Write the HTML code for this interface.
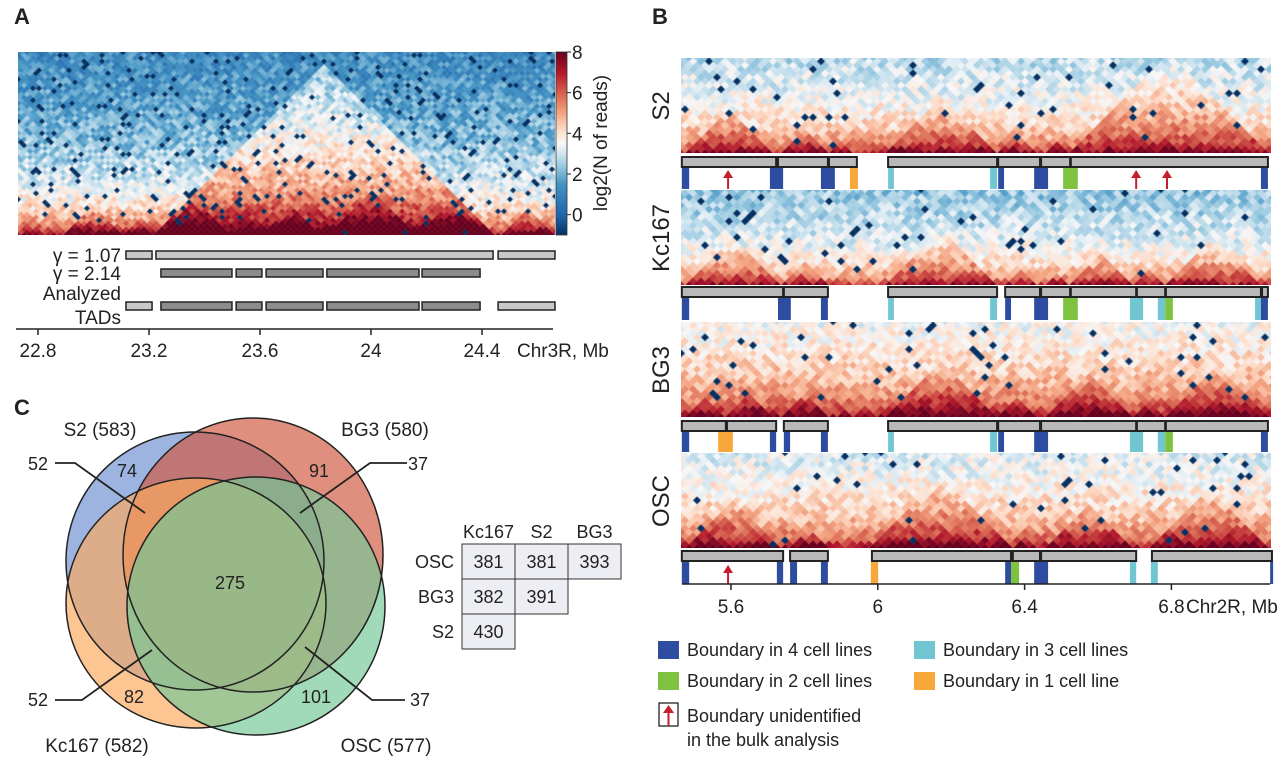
<!DOCTYPE html>
<html><head><meta charset="utf-8">
<style>
html,body{margin:0;padding:0;background:#fff;}
#wrap{position:relative;width:1280px;height:758px;overflow:hidden;font-family:"Liberation Sans",sans-serif;}
canvas{position:absolute;}
svg{position:absolute;left:0;top:0;}
svg text{font-family:"Liberation Sans",sans-serif;fill:#222;}
</style></head>
<body>
<div id="wrap">
<canvas id="hmA" style="left:18px;top:52px" width="537" height="183"></canvas>
<canvas id="hmS2" style="left:681px;top:58px" width="590" height="95"></canvas>
<canvas id="hmKc" style="left:681px;top:190px" width="590" height="95"></canvas>
<canvas id="hmBG3" style="left:681px;top:322px" width="590" height="95"></canvas>
<canvas id="hmOSC" style="left:681px;top:453px" width="590" height="95"></canvas>
<svg id="ov" width="1280" height="758"></svg>
</div>
<script>
// ---------- DATA ----------
const colorTicks = [8, 6, 4, 2, 0];
const axisATicks = [22.8, 23.2, 23.6, 24, 24.4];
const tadsGamma107 = [[23.117, 23.211], [23.225, 24.44], [24.458, 24.663]];
const tadsGamma214 = [[23.243, 23.499], [23.514, 23.607], [23.622, 23.827], [23.841, 24.173], [24.184, 24.393]];
const tadsAnalyzedLight = [[23.117, 23.211], [24.458, 24.663]];
const axisBTicks = [5.6, 6, 6.4, 6.8];
const cellLines = ["S2", "Kc167", "BG3", "OSC"];
const lineOffsets = [-0.35, -0.8, 0.35, 0.05];
const tadsS2 = [[5.466,5.723],[5.728,5.864],[5.867,5.943],[6.028,6.325],[6.328,6.442],[6.445,6.524],[6.526,7.063]];
const tadsKc = [[5.466,5.742],[5.744,5.864],[6.028,6.325],[6.347,6.442],[6.445,6.524],[6.526,6.704],[6.706,6.783],[6.785,7.044],[7.047,7.063]];
const tadsBG3 = [[5.466,5.586],[5.589,5.723],[5.744,5.864],[6.028,6.325],[6.328,6.442],[6.445,6.704],[6.706,6.783],[6.785,7.063]];
const tadsOSC = [[5.466,5.742],[5.761,5.864],[5.984,6.363],[6.368,6.442],[6.445,6.704],[6.747,7.074]];
const marksS2 = [[5.466,5.486,4],[5.706,5.742,4],[5.845,5.883,4],[5.924,5.946,1],[6.028,6.044,3],[6.306,6.325,3],[6.328,6.344,4],[6.426,6.464,4],[6.505,6.545,2],[7.044,7.063,4]];
const marksKc = [[5.466,5.486,4],[5.728,5.763,4],[5.845,5.864,4],[6.028,6.044,3],[6.306,6.325,3],[6.347,6.363,4],[6.426,6.464,4],[6.505,6.545,2],[6.687,6.723,3],[6.763,6.783,3],[6.783,6.804,2],[7.028,7.044,3],[7.044,7.063,4]];
const marksBG3 = [[5.466,5.486,4],[5.565,5.605,1],[5.706,5.723,4],[5.744,5.761,4],[5.845,5.864,4],[6.028,6.044,3],[6.306,6.325,3],[6.328,6.344,4],[6.426,6.464,4],[6.687,6.723,3],[6.763,6.783,3],[6.783,6.804,2],[7.044,7.063,4]];
const marksOSC = [[5.466,5.486,4],[5.725,5.742,4],[5.761,5.780,4],[5.845,5.864,4],[5.981,6.001,1],[6.347,6.363,4],[6.363,6.385,2],[6.426,6.464,4],[6.687,6.704,3],[6.744,6.763,3],[7.069,7.074,4]];
const arrowsS2 = [5.592, 6.704, 6.788];
const arrowsKc = [];
const arrowsBG3 = [];
const arrowsOSC = [5.592];
const vennSets = ["S2 (583)", "BG3 (580)", "Kc167 (582)", "OSC (577)"];
const vennCounts = [74, 91, 275, 82, 101];
const vennLeaders = [52, 37, 52, 37];
const tableCols = ["Kc167", "S2", "BG3"];
const tableRows = ["OSC", "BG3", "S2"];
const tableVals = [[381, 381, 393], [382, 391], [430]];

// ---------- HELPERS ----------
const NS = "http://www.w3.org/2000/svg";
const ov = document.getElementById('ov');
function mk(tag, attrs, parent) {
  const e = document.createElementNS(NS, tag);
  for (const k in attrs) e.setAttribute(k, attrs[k]);
  (parent || ov).appendChild(e);
  return e;
}
function txt(s, x, y, size, anchor, parent) {
  const t = mk('text', {x: x, y: y, 'font-size': size, 'text-anchor': anchor || 'start'}, parent);
  t.textContent = s;
  return t;
}
const xA = mb => 38 + (mb - 22.8) * 277.5;
const xB = mb => 731 + (mb - 5.6) * 367;
const stops = [[-1,[5,48,97]],[0,[33,102,172]],[1.5,[67,147,195]],[2.3,[146,197,222]],[3,[209,229,240]],[3.5,[247,247,247]],[4.2,[253,219,199]],[5,[244,165,130]],[6,[214,96,77]],[7,[178,24,43]],[8,[103,0,31]]];
function cmap(v) {
  if (v <= stops[0][0]) return 'rgb(' + stops[0][1].join(',') + ')';
  for (let k = 1; k < stops.length; k++) {
    if (v <= stops[k][0]) {
      const a = stops[k-1], b = stops[k], t = (v - a[0]) / (b[0] - a[0]);
      return 'rgb(' + [0,1,2].map(c => Math.round(a[1][c] + (b[1][c] - a[1][c]) * t)).join(',') + ')';
    }
  }
  return 'rgb(' + stops[stops.length-1][1].join(',') + ')';
}
function hash(i, j, s) {
  let h = (i * 374761393 + j * 668265263 + s * 2147483647) | 0;
  h = (h ^ (h >>> 13)) * 1274126177 | 0;
  h = h ^ (h >>> 16);
  return ((h >>> 0) % 10000) / 10000;
}
function sameTad(tads, a, b) {
  for (const t of tads) if (a >= t[0] && a <= t[1] && b >= t[0] && b <= t[1]) return t;
  return null;
}
function drawHeat(id, mbLeft, pxPerMb, w, tadSmall, tadBig, base, k, bonusS, bonusB, seed, speck, noise) {
  const cv = document.getElementById(id), ctx = cv.getContext('2d');
  const W = cv.width, H = cv.height, hh = w / 2;
  const dmax = Math.ceil(H / hh) + 1, nb = Math.ceil(W / w) + 2;
  const mbPerBin = w / pxPerMb;
  for (let d = 0; d <= dmax; d++) {
    for (let c = -1; c <= nb * 2; c++) {
      if ((c + d) % 2 !== 0) continue;
      const cx = c * w / 2, cy = H - d * hh;
      if (cx < -w || cx > W + w) continue;
      const i = (c - d) / 2, j = (c + d) / 2;
      const a = mbLeft + i * mbPerBin, b = mbLeft + j * mbPerBin;
      let v = base - k * Math.log2(1 + d);
      const ts = sameTad(tadSmall, a, b);
      if (ts) v += bonusS * Math.max(0, 1 - d * mbPerBin / (ts[1] - ts[0]) * 0.7);
      const tb = tadBig ? sameTad(tadBig, a, b) : null;
      if (tb) v += bonusB * (1 - 0.5 * d * mbPerBin / (tb[1] - tb[0]));
      v += (hash(i, j, seed) - 0.5) * noise;
      if (hash(j, i, seed + 7) < speck * Math.min(1, d / 8)) v = -1.2;
      ctx.fillStyle = cmap(v);
      ctx.beginPath();
      ctx.moveTo(cx, cy - hh - 0.3); ctx.lineTo(cx + w / 2 + 0.3, cy);
      ctx.lineTo(cx, cy + hh + 0.3); ctx.lineTo(cx - w / 2 - 0.3, cy);
      ctx.closePath(); ctx.fill();
    }
  }
}

// ---------- PANEL A ----------
drawHeat('hmA', 22.728, 277.5, 6, [[23.243,23.499],[23.514,23.607],[23.622,23.827],[23.841,24.173],[24.184,24.393],[23.117,23.211],[24.458,24.663],[22.9,23.1]], [[23.225,24.44]], 8.0, 1.15, 1.4, 2.0, 1, 0.06, 1.6);
const gA = mk('g', { });
let t = txt('A', 14, 24, 22, 'start', gA); t.setAttribute('font-weight', 'bold');
 
const defs = mk('defs', {});
const lg = mk('linearGradient', {id: 'cb', x1: 0, y1: 1, x2: 0, y2: 0}, defs);
for (let v = -1; v <= 8; v += 0.5) mk('stop', {offset: (v + 1) / 9, 'stop-color': cmap(v)}, lg);
const cbY = v => 235 - (v + 1) / 9 * 183;
const cb = mk('rect', {x: 556, y: 52, width: 11, height: 183, fill: 'url(#cb)', stroke: '#333', 'stroke-width': 0.8}, gA);
 
colorTicks.forEach(v => {
  mk('line', {x1: 567, x2: 571, y1: cbY(v), y2: cbY(v), stroke: '#222', 'stroke-width': 1}, gA);
  const tt = txt(String(v), 572, cbY(v) + 7, 19, 'start', gA);
   
});
t = txt('log2(N of reads)', 0, 0, 19, 'middle', gA);
t.setAttribute('transform', 'translate(607,143) rotate(-90)');
 
function barA(tads, y, fill, name) {
  tads.forEach(tt => {
    const r = mk('rect', {x: xA(tt[0]), y: y, width: xA(tt[1]) - xA(tt[0]), height: 8, fill: fill, stroke: '#222', 'stroke-width': 1.5}, gA);
     
  });
}
barA(tadsGamma107, 251, '#c8c8c8', 'tad-gamma-1-07');
barA(tadsGamma214, 269, '#8c8c8c', 'tad-gamma-2-14');
barA(tadsAnalyzedLight, 302, '#c8c8c8', 'analyzed-tad-light');
barA(tadsGamma214, 302, '#8c8c8c', 'analyzed-tad-dark');
[['γ = 1.07', 262], ['γ = 2.14', 280], ['Analyzed', 300], ['TADs', 324]].forEach(p => {
  const l = txt(p[0], 121, p[1], 19, 'end', gA);
   
});
mk('line', {x1: 16, x2: 553, y1: 329, y2: 329, stroke: '#222', 'stroke-width': 1.5}, gA);
axisATicks.forEach(v => {
  mk('line', {x1: xA(v), x2: xA(v), y1: 329, y2: 335, stroke: '#222', 'stroke-width': 1.5}, gA);
  const l = txt(String(v), xA(v), 357, 19, 'middle', gA);
   
});
t = txt('Chr3R, Mb', 517, 357, 19, 'start', gA);
 

// ---------- PANEL B ----------
const gB = mk('g', { });
t = txt('B', 652, 24, 22, 'start', gB); t.setAttribute('font-weight', 'bold');
 
const hmIds = ['hmS2', 'hmKc', 'hmBG3', 'hmOSC'];
const tadSets = [tadsS2, tadsKc, tadsBG3, tadsOSC];
const markSets = [marksS2, marksKc, marksBG3, marksOSC];
const arrowSets = [arrowsS2, arrowsKc, arrowsBG3, arrowsOSC];
const hmTop = [58, 190, 322, 453];
const barTop = [157, 287, 421, 551];
const markBot = [189, 320, 452, 584];
const levelColors = {4: '#2e4da0', 3: '#72c6d1', 2: '#7fc241', 1: '#f8a83a'};
cellLines.forEach((name, n) => {
  drawHeat(hmIds[n], 5.6 + (681 - 731) / 367, 367, 8, tadSets[n], null, 7.4 + lineOffsets[n], 0.92, 1.2, 0, 11 + n, 0.03, 1.4);
  const lab = txt(name, 0, 0, 24, 'middle', gB);
  lab.setAttribute('transform', 'translate(' + 669 + ',' + (hmTop[n] + 48) + ') rotate(-90)');
   
  const g = mk('g', {}, gB);
   
  markSets[n].forEach(m => {
    const r = mk('rect', {x: xB(m[0]), y: barTop[n] + 10, width: Math.max(3, xB(m[1]) - xB(m[0])), height: markBot[n] - barTop[n] - 10, fill: levelColors[m[2]]}, g);
     
  });
  tadSets[n].forEach(tt => {
    const r = mk('rect', {x: xB(tt[0]), y: barTop[n], width: xB(tt[1]) - xB(tt[0]), height: 10, fill: '#b9b9b9', stroke: '#222', 'stroke-width': 2}, g);
     
  });
  arrowSets[n].forEach(a => {
    const x = xB(a), yb = markBot[n];
    const ar = mk('g', {}, g);
     
    mk('line', {x1: x, x2: x, y1: yb, y2: yb - 12, stroke: '#c41e2f', 'stroke-width': 2}, ar);
    mk('polygon', {points: (x - 5) + ',' + (yb - 11) + ' ' + (x + 5) + ',' + (yb - 11) + ' ' + x + ',' + (yb - 19), fill: '#c41e2f'}, ar);
  });
});
mk('line', {x1: 682, x2: 1270, y1: 584, y2: 584, stroke: '#222', 'stroke-width': 1.5}, gB);
axisBTicks.forEach(v => {
  mk('line', {x1: xB(v), x2: xB(v), y1: 584, y2: 590, stroke: '#222', 'stroke-width': 1.5}, gB);
  const l = txt(String(v), xB(v), 613, 19, 'middle', gB);
   
});
t = txt('Chr2R, Mb', 1186, 613, 19, 'start', gB);
 
const leg = mk('g', {}, gB);
 
[[4, 'Boundary in 4 cell lines', 658, 641], [3, 'Boundary in 3 cell lines', 914, 641], [2, 'Boundary in 2 cell lines', 658, 672], [1, 'Boundary in 1 cell line', 914, 672]].forEach(e => {
  const ge = mk('g', {}, leg);
   
  mk('rect', {x: e[2], y: e[3], width: 21, height: 18, fill: levelColors[e[0]]}, ge);
  txt(e[1], e[2] + 29, e[3] + 15, 18, 'start', ge);
});
const ga = mk('g', {}, leg);
 
mk('rect', {x: 659, y: 703, width: 19, height: 23, fill: '#fff', stroke: '#222', 'stroke-width': 1.3}, ga);
mk('line', {x1: 668.5, x2: 668.5, y1: 726, y2: 712, stroke: '#c41e2f', 'stroke-width': 2}, ga);
mk('polygon', {points: '663,713 674,713 668.5,705', fill: '#c41e2f'}, ga);
txt('Boundary unidentified', 687, 722, 18, 'start', ga);
txt('in the bulk analysis', 687, 746, 18, 'start', ga);

// ---------- PANEL C ----------
const gC = mk('g', { });
t = txt('C', 14, 415, 22, 'start', gC); t.setAttribute('font-weight', 'bold');
 
const ells = [
  {cx: 195, cy: 561, rx: 129, ry: 129, f: '#6f90d2', n: 'venn-s2'},
  {cx: 253, cy: 555, rx: 130, ry: 137, f: '#d25a42', n: 'venn-bg3'},
  {cx: 196, cy: 603, rx: 130, ry: 125, f: '#fcaa5e', n: 'venn-kc167'},
  {cx: 256, cy: 606, rx: 129, ry: 129, f: '#74c898', n: 'venn-osc'}
];
ells.forEach(e => {
  const el = mk('ellipse', {cx: e.cx, cy: e.cy, rx: e.rx, ry: e.ry, fill: e.f, 'fill-opacity': 0.68}, gC);
   
});
ells.forEach(e => mk('ellipse', {cx: e.cx, cy: e.cy, rx: e.rx, ry: e.ry, fill: 'none', stroke: '#222', 'stroke-width': 1.5}, gC));
[[vennSets[0], 100, 436], [vennSets[1], 385, 436], [vennSets[2], 97, 752], [vennSets[3], 386, 752]].forEach(p => {
  const l = txt(p[0], p[1], p[2], 19, 'middle', gC);
   
});
[[vennCounts[0], 127, 477], [vennCounts[1], 319, 477], [vennCounts[2], 230, 589], [vennCounts[3], 134, 703], [vennCounts[4], 316, 703]].forEach(p => {
  const l = txt(String(p[0]), p[1], p[2], 18, 'middle', gC);
   
});
[[vennLeaders[0], 38, 470, '55,463 75,463 145,513'], [vennLeaders[1], 418, 470, '407,463 370,463 300,513'],
 [vennLeaders[2], 38, 706, '55,700 82,700 152,650'], [vennLeaders[3], 420, 706, '405,700 372,700 305,647']].forEach(p => {
  const l = txt(String(p[0]), p[1], p[2], 18, 'middle', gC);
   
  mk('polyline', {points: p[3], fill: 'none', stroke: '#222', 'stroke-width': 1.8}, gC);
});
const gt = mk('g', {}, gC);
 
const cx0 = 462, cw = 53, ry0 = 544, rh = 35;
tableCols.forEach((c, k) => txt(c, cx0 + k * cw + cw / 2, 538, 18, 'middle', gt));
tableRows.forEach((r, ri) => {
  txt(r, 454, ry0 + ri * rh + 24, 18, 'end', gt);
  tableVals[ri].forEach((v, ci) => {
    const rc = mk('rect', {x: cx0 + ci * cw, y: ry0 + ri * rh, width: cw, height: rh, fill: '#eceef3', stroke: '#333', 'stroke-width': 1}, gt);
     
    txt(String(v), cx0 + ci * cw + cw / 2, ry0 + ri * rh + 24, 18, 'middle', gt);
  });
});
</script>
</body></html>
